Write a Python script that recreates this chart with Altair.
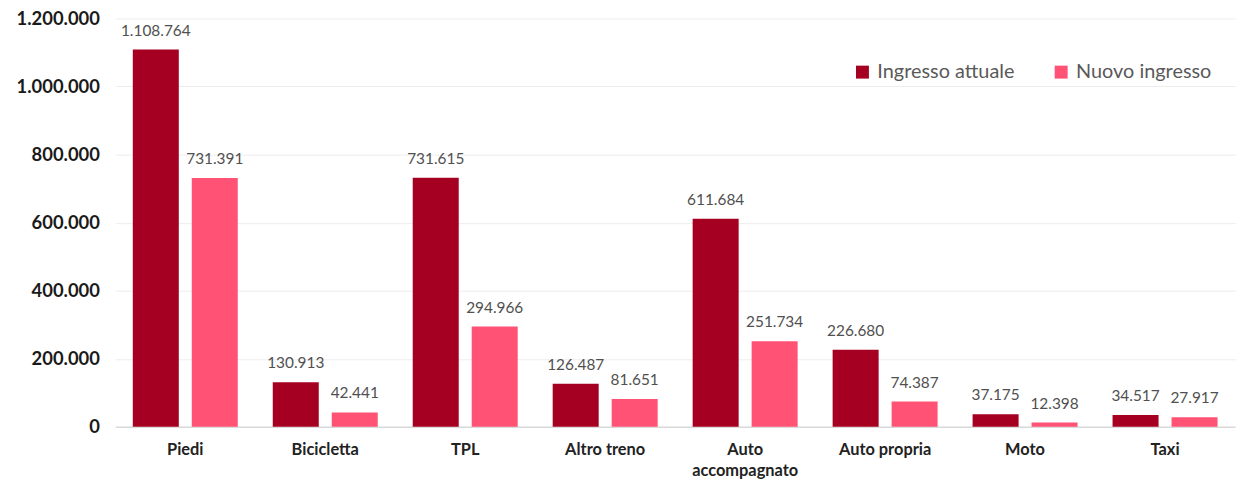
import altair as alt
import pandas as pd

categories = ["Piedi", "Bicicletta", "TPL", "Altro treno", "Auto accompagnato",
              "Auto propria", "Moto", "Taxi"]
ingresso_attuale = [1108764, 130913, 731615, 126487, 611684, 226680, 37175, 34517]
nuovo_ingresso = [731391, 42441, 294966, 81651, 251734, 74387, 12398, 27917]
series = ["Ingresso attuale", "Nuovo ingresso"]
colors = ["#A50021", "#FF5275"]


def fmt(v):
    return f"{v:,}".replace(",", ".")


rows = []
for c, a, n in zip(categories, ingresso_attuale, nuovo_ingresso):
    rows.append({"cat": c, "serie": series[0], "val": a, "lab": fmt(a)})
    rows.append({"cat": c, "serie": series[1], "val": n, "lab": fmt(n)})
df = pd.DataFrame(rows)

x = alt.X("cat:N", sort=categories, title=None,
          scale=alt.Scale(paddingInner=0.25, paddingOuter=0.125),
          axis=alt.Axis(labelAngle=0, labelFont="Lato", labelFontWeight="bold",
                        labelFontSize=16.5, labelColor="#222222", labelPadding=15,
                        ticks=False, domainColor="#D9D9D9", domainWidth=1.5,
                        labelLineHeight=21,
                        labelExpr="datum.label == 'Auto accompagnato' ? ['Auto', 'accompagnato'] : datum.label"))
xo = alt.XOffset("serie:N", sort=series, scale=alt.Scale(paddingInner=0.22))
y = alt.Y("val:Q", title=None,
          scale=alt.Scale(domain=[0, 1200000], nice=False),
          axis=alt.Axis(values=[0, 200000, 400000, 600000, 800000, 1000000, 1200000],
                        labelFont="Lato", labelFontWeight="bold", labelFontSize=18.5,
                        labelColor="#1A1A1A", labelPadding=16, ticks=False, domain=False,
                        gridColor="#EDEDED", gridWidth=1,
                        labelExpr="replace(replace(format(datum.value, ','), ',', '.'), ',', '.')"))

base = alt.Chart(df)
bars = base.mark_bar().encode(
    x=x, xOffset=xo, y=y,
    color=alt.Color("serie:N", sort=series, title=None,
                    scale=alt.Scale(domain=series, range=colors),
                    legend=alt.Legend(orient="none", legendX=742, legendY=44,
                                      direction="horizontal", symbolType="square",
                                      symbolSize=170, symbolStrokeWidth=0,
                                      labelFont="Lato", labelFontSize=20,
                                      labelColor="#595959", columnPadding=36,
                                      symbolOffset=0, labelOffset=5)),
)
text = base.mark_text(baseline="bottom", dy=-11, font="Lato", fontSize=15.5,
                      color="#505050").encode(
    x=alt.X("cat:N", sort=categories), xOffset=alt.XOffset("serie:N", sort=series),
    y="val:Q", text="lab:N")

chart = alt.layer(bars, text).properties(
    width=1127, height=411,
    autosize=alt.AutoSizeParams(type="none"),
    padding={"left": 108, "top": 9, "right": 4, "bottom": 56},
).configure_view(stroke=None)

chart.save("out.html", embed_options={"renderer": "svg", "actions": False})
